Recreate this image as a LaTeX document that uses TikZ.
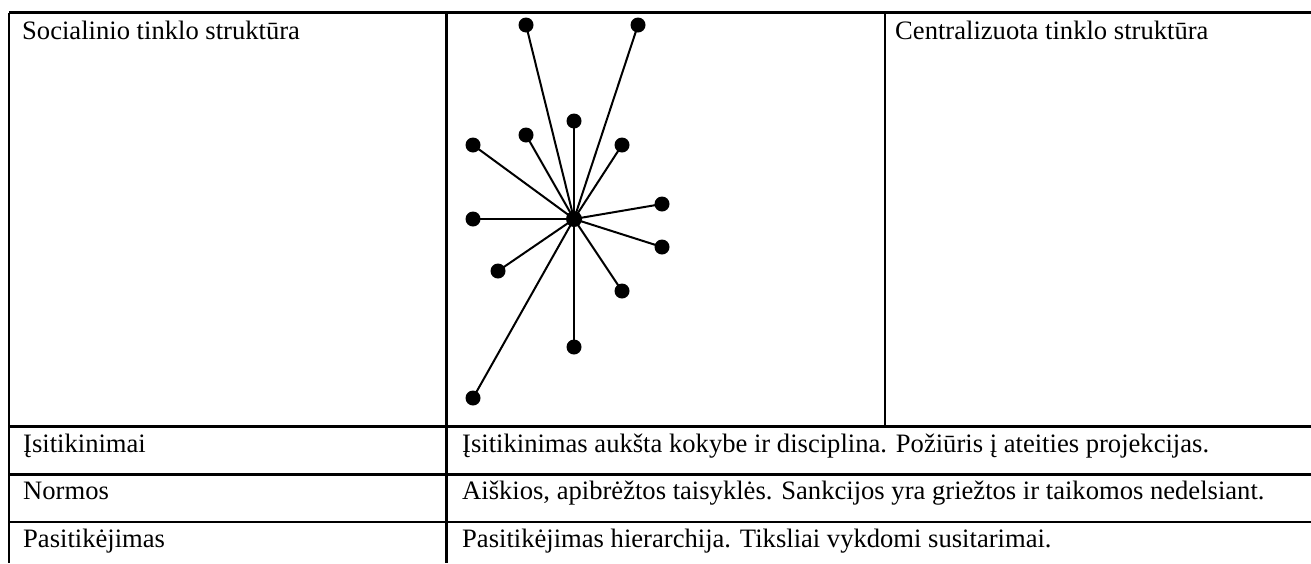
\documentclass[tikz,border=0pt]{standalone}
\usepackage{fontspec}
\setmainfont{Liberation Serif}
\begin{document}
\begin{tikzpicture}[x=1pt,y=-1pt,
  rule/.style={line width=2.5pt},
  cell/.style={anchor=base west,inner sep=0pt,font=\fontsize{26.6}{32}\selectfont},
  dot/.style={circle,fill=black,inner sep=0pt,minimum size=15pt},
  hub/.style={circle,fill=black,inner sep=0pt,minimum size=16pt},
  edge/.style={line width=2pt}]
\useasboundingbox (0,0) rectangle (1311,563);
% table grid
\coordinate (tl) at (9,12.5);
\coordinate (tr) at (1311,12.5);
\coordinate (bl) at (9,563);
\coordinate (ma) at (446.5,12.5);
\coordinate (mb) at (446.5,563);
\coordinate (ra) at (885,12.5);
\coordinate (rb) at (885,426.5);
\coordinate (r1a) at (9,426.5);   \coordinate (r1b) at (1311,426.5);
\coordinate (r2a) at (9,474.5);   \coordinate (r2b) at (1311,474.5);
\coordinate (r3a) at (9,522);     \coordinate (r3b) at (1311,522);
\draw[rule] (tl) -- (tr);
\draw[rule] (tl) -- (bl);
\draw[rule] (ma) -- (mb);
\draw[rule] (ra) -- (rb);
\draw[rule] (r1a) -- (r1b);
\draw[rule] (r2a) -- (r2b);
\draw[rule] (r3a) -- (r3b);
% cell texts
\node[cell] (h1) at (22,39) {Socialinio tinklo struktūra};
\node[cell] (h2) at (895,39) {Centralizuota tinklo struktūra};
\node[cell] (a1) at (23,452) {Įsitikinimai};
\node[cell] (a2) at (462,452) {Įsitikinimas aukšta kokybe ir disciplina. Požiūris į ateities projekcijas.};
\node[cell] (b1) at (23,499) {Normos};
\node[cell] (b2) at (462,499) {Aiškios, apibrėžtos taisyklės. Sankcijos yra griežtos ir taikomos nedelsiant.};
\node[cell] (c1) at (23,547) {Pasitikėjimas};
\node[cell] (c2) at (462,547) {Pasitikėjimas hierarchija. Tiksliai vykdomi susitarimai.};
% star network
\node[hub] (c) at (574,219) {};
\foreach \n/\p in {n1/{(526,25)}, n2/{(638,25)}, n3/{(574,121)}, n4/{(526,135)},
                   n5/{(473,145)}, n6/{(622,145)}, n7/{(473,219)}, n8/{(662,204)},
                   n9/{(662,247)}, n10/{(498,271)}, n11/{(622,291)}, n12/{(574,347)},
                   n13/{(473,398)}}{
  \node[dot] (\n) at \p {};
  \draw[edge] (c.center) -- (\n.center);
}
\end{tikzpicture}
\end{document}
